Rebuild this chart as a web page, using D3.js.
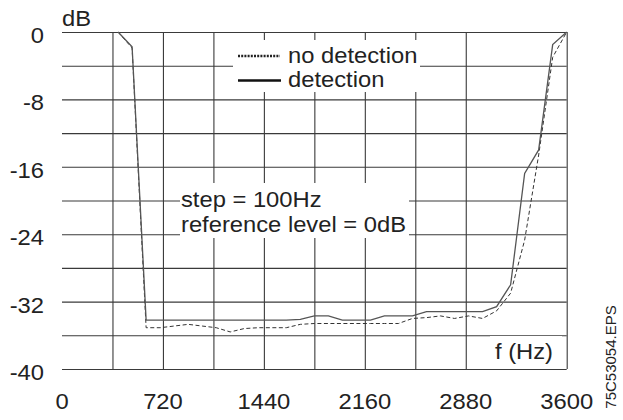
<!DOCTYPE html>
<html>
<head>
<meta charset="utf-8">
<script src="https://cdn.jsdelivr.net/npm/d3@7"></script>
<style>
  body { margin: 0; background: #fff; }
  text { font-family: "Liberation Sans", Arial, sans-serif; fill: #222; }
</style>
</head>
<body>
<div id="wrap"></div>
<script>
// frequency points, 100 Hz step
var freq = [400,500,600,700,800,900,1000,1100,1200,1300,1400,1500,1600,1700,1800,1900,
            2000,2100,2200,2300,2400,2500,2600,2700,2800,2900,3000,3100,3200,3300,3400,3500,3600];
var detection = [0,-1.75,-34.2,-34.2,-34.2,-34.2,-34.2,-34.2,-34.2,-34.2,-34.2,-34.2,-34.2,-34.1,-33.7,-33.7,
                 -34.2,-34.2,-34.2,-33.7,-33.7,-33.7,-33.2,-33.2,-33.2,-33.2,-33.2,-32.6,-30.0,-16.8,-14.0,-1.5,0];
var noDetection = [0,-1.9,-35.1,-35.1,-34.9,-34.7,-34.9,-35.1,-35.6,-35.2,-35.1,-35.1,-35.1,-34.7,-34.6,-34.6,
                   -34.6,-34.6,-34.6,-34.6,-34.6,-34.0,-33.9,-33.7,-34.0,-33.7,-34.0,-33.1,-31.0,-24.7,-14.6,-3.0,0];

var xGrid = [360,720,1080,1440,1800,2160,2520,2880,3600];
var yGrid = [0,-4,-8,-12,-16,-20,-24,-28,-32,-36,-40];
var xLabels = [0,720,1440,2160,2880,3600];
var yLabels = [0,-8,-16,-24,-32,-40];

var width = 623, height = 420;
var sx = 1.08; // text in the source is a bit stretched sideways

var svg = d3.select('#wrap').append('svg')
    .attr('width', width)
    .attr('height', height);

var x = d3.scaleLinear().domain([0,3600]).range([62,566.7]),
    y = d3.scaleLinear().domain([-40,0]).range([369,32]);

// grid
svg.append('g')
  .attr('transform','translate(0,'+y(-40)+')')
  .call(d3.axisBottom(x).tickValues(xGrid).tickSize(-(y(-40)-y(0))).tickFormat(''))
  .call(function(g){ g.select('.domain').remove(); })
  .selectAll('line').attr('stroke','#3a3a3a').attr('stroke-width',1.1);

svg.append('g')
  .attr('transform','translate('+x(0)+',0)')
  .call(d3.axisLeft(y).tickValues(yGrid).tickSize(-(x(3600)-x(0))).tickFormat(''))
  .call(function(g){ g.select('.domain').remove(); })
  .selectAll('line').attr('stroke','#3a3a3a').attr('stroke-width',1.1);

// curves
var line = d3.line()
  .x(function(d){ return x(d[0]); })
  .y(function(d){ return y(d[1]); });

svg.append('path')
  .datum(freq.map(function(f,i){ return [f, noDetection[i]]; }))
  .attr('d', line)
  .attr('fill','none')
  .attr('stroke','#333')
  .attr('stroke-width',1)
  .attr('stroke-dasharray','4,2.5');

svg.append('path')
  .datum(freq.map(function(f,i){ return [f, detection[i]]; }))
  .attr('d', line)
  .attr('fill','none')
  .attr('stroke','#555')
  .attr('stroke-width',1.3);

function label(px, py, str, anchor, size) {
  svg.append('text')
    .attr('transform','translate('+px+','+py+') scale('+sx+',1)')
    .attr('text-anchor', anchor || 'start')
    .style('font-size', (size || 22)+'px')
    .text(str);
}

// white boxes that cut the grid
svg.append('rect').attr('x',233).attr('y',40).attr('width',187).attr('height',52).attr('fill','#fff');
svg.append('rect').attr('x',180).attr('y',183).attr('width',229).attr('height',55).attr('fill','#fff');
svg.append('rect').attr('x',490).attr('y',336).attr('width',72).attr('height',32).attr('fill','#fff');

// legend
svg.append('line').attr('x1',238).attr('x2',280).attr('y1',56).attr('y2',56)
  .attr('stroke','#222').attr('stroke-width',2.5).attr('stroke-dasharray','2,1.2');
svg.append('line').attr('x1',238).attr('x2',281).attr('y1',80.5).attr('y2',80.5)
  .attr('stroke','#111').attr('stroke-width',2.5);
label(288, 63, 'no detection');
label(288, 87, 'detection');

label(181, 207, 'step = 100Hz');
label(181, 232, 'reference level = 0dB');
label(495, 359, 'f (Hz)');
label(62, 26, 'dB');

// tick labels
yLabels.forEach(function(v){ label(44, y(v)+11, String(v), 'end'); });
xLabels.forEach(function(v){ label(x(v), 409, String(v), 'middle'); });

svg.append('text')
  .attr('transform','translate(616,357) rotate(-90)')
  .attr('text-anchor','middle')
  .style('font-size','15px')
  .text('75C53054.EPS');
</script>
</body>
</html>
